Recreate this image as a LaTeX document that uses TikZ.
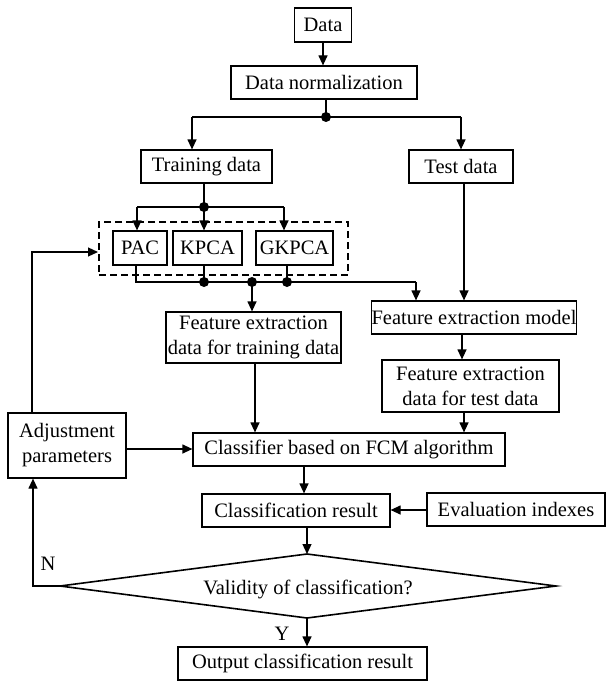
\documentclass[tikz,border=0pt]{standalone}
\usepackage{fontspec}
\setmainfont{Liberation Serif}
\usetikzlibrary{arrows.meta}
\begin{document}
\begin{tikzpicture}[x=1pt,y=-1pt,
  font=\fontsize{20.5}{25}\selectfont,
  line width=1.2pt,
  box/.style={draw,line width=1.2pt,inner sep=0pt,align=center},
  arr/.style={-{Triangle[length=10pt,width=9pt]}},
  dot/.style={circle,fill,inner sep=0pt,minimum size=10pt}]
\useasboundingbox (0,0) rectangle (608,682);
% boxes
\node[box,minimum width=57pt,minimum height=34pt] (data) at (323,25) {Data};
\node[box,minimum width=186pt,minimum height=33pt] (norm) at (324,82.5) {Data normalization};
\node[box,minimum width=131pt,minimum height=33pt] (train) at (206.5,166.5) {Training data};
\node[box,minimum width=104pt,minimum height=33pt] (test) at (461,166.5) {Test data};
\node[box,minimum width=54pt,minimum height=34pt] (pac) at (140,248) {PAC};
\node[box,minimum width=69pt,minimum height=34pt] (kpca) at (207.5,248) {KPCA};
\node[box,minimum width=77pt,minimum height=34pt] (gkpca) at (294.5,248) {GKPCA};
\node[draw,dashed,line width=2pt,dash pattern=on 7pt off 4pt,minimum width=249pt,minimum height=53pt,inner sep=0pt] (grp) at (223.5,248.5) {};
\node[box,minimum width=186pt,minimum height=33pt] (fem) at (474,317.5) {Feature extraction model};
\node[box,minimum width=175pt,minimum height=51pt] (fetrain) at (253.5,337.5) {Feature extraction\\data for training data};
\node[box,minimum width=177pt,minimum height=52pt] (fetest) at (470.5,386) {Feature extraction\\data for test data};
\node[box,minimum width=118pt,minimum height=65pt] (adj) at (67,445.5) {Adjustment\\parameters};
\node[box,minimum width=312pt,minimum height=33pt] (cls) at (349,449.5) {Classifier based on FCM algorithm};
\node[box,minimum width=188pt,minimum height=33pt] (res) at (296,510.5) {Classification result};
\node[box,minimum width=178pt,minimum height=33pt] (eval) at (516,509.5) {Evaluation indexes};
% diamond
\coordinate (dl) at (60,586);
\coordinate (dr) at (556,586);
\coordinate (dt) at (307,554);
\coordinate (db) at (307,618);
\draw[line width=1.6pt] (dl) -- (dt) -- (dr) -- (db) -- cycle;
\node (valid) at (308,589) {Validity of classification?};
\node[box,minimum width=249pt,minimum height=33pt] (out) at (302.5,663.5) {Output classification result};
% junction coordinates
\coordinate (j1) at (326,117);
\coordinate (j1l) at (192,117);
\coordinate (j1r) at (461,117);
\coordinate (j2) at (204,207);
\coordinate (j2l) at (137,207);
\coordinate (j2r) at (284,207);
\coordinate (j3a) at (204,282);
\coordinate (j3b) at (252,282);
\coordinate (j3c) at (287,282);
\coordinate (j3l) at (136,282);
\coordinate (j3r) at (416,282);
\coordinate (ad1) at (32,252);
\coordinate (nl) at (33,586);
% connectors
\draw[arr] (data.south) -- (data.south |- norm.north);
\draw (norm.south -| j1) -- (j1);
\draw (j1l) -- (j1r);
\draw[arr] (j1l) -- (j1l |- train.north);
\draw[arr] (j1r) -- (j1r |- test.north);
\draw (train.south -| j2) -- (j2);
\draw (j2l) -- (j2r);
\draw[arr] (j2l) -- (j2l |- pac.north);
\draw[arr] (j2) -- (j2 |- kpca.north);
\draw[arr] (j2r) -- (j2r |- gkpca.north);
\draw (pac.south -| j3l) -- (j3l) -- (j3r);
\draw[arr] (j3r) -- (j3r |- fem.north);
\draw (kpca.south -| j3a) -- (j3a);
\draw (gkpca.south -| j3c) -- (j3c);
\draw[arr] (j3b) -- (j3b |- fetrain.north);
\draw[arr] (test.south -| 464,0) -- (fem.north -| 464,0);
\draw[arr] (fem.south -| 462,0) -- (fetest.north -| 462,0);
\draw[arr] (fetrain.south -| 255,0) -- (cls.north -| 255,0);
\draw[arr] (fetest.south -| 464,0) -- (cls.north -| 464,0);
\draw[arr] (adj.east |- 0,449) -- (cls.west |- 0,449);
\draw[arr] (adj.north -| ad1) -- (ad1) -- (grp.west |- ad1);
\draw[arr] (cls.south -| 304,0) -- (res.north -| 304,0);
\draw[arr] (eval.west |- 0,510) -- (res.east |- 0,510);
\draw[arr] (res.south -| dt) -- (dt);
\draw[arr] (dl) -- (nl) -- (adj.south -| nl);
\draw[arr] (db) -- (db |- out.north);
% dots
\foreach \p in {j1,j2,j3a,j3b,j3c} \node[dot] at (\p) {};
% labels
\node (nlab) at (48,564) {N};
\node (ylab) at (282,634) {Y};
\end{tikzpicture}
\end{document}
